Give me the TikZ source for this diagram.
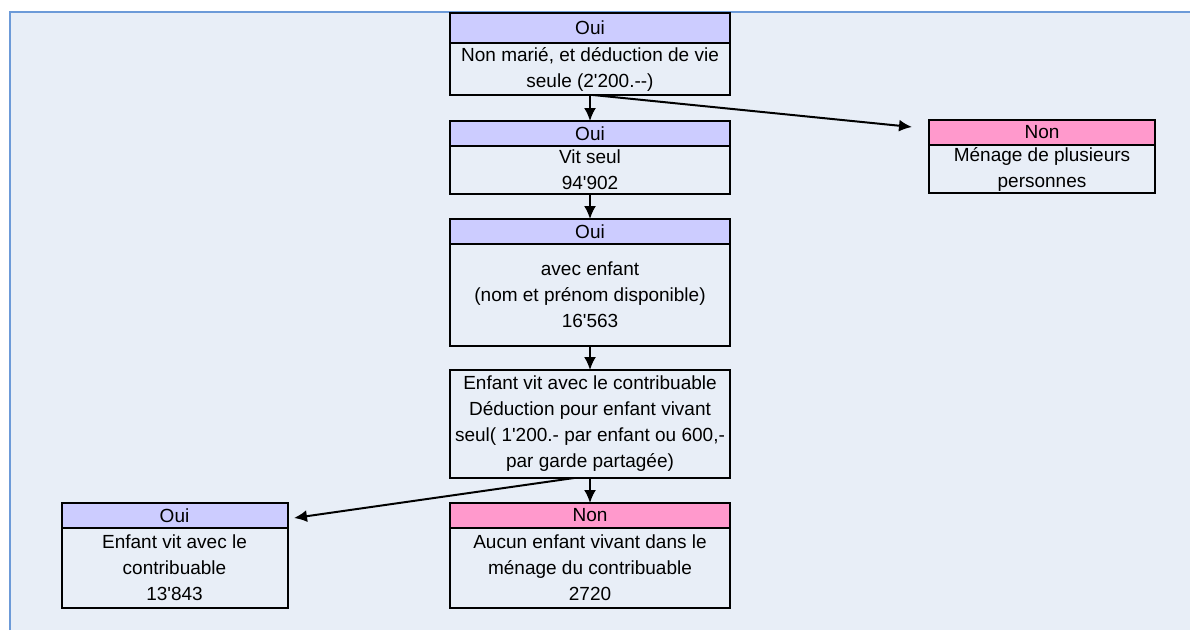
\documentclass[tikz,border=0pt]{standalone}
\usepackage{fontspec}
\setmainfont{Liberation Sans}[Ligatures=TeXOff]
\usetikzlibrary{positioning,arrows.meta}
\definecolor{ouiblue}{HTML}{CCCCFF}
\definecolor{nonpink}{HTML}{FF99CC}
\definecolor{panelbg}{HTML}{E8EEF7}
\definecolor{panelline}{HTML}{6C9AD8}
\tikzset{
  oui/.style={draw, line width=2pt, fill=ouiblue, minimum width=#1, minimum height=25pt, inner sep=0pt, outer sep=0pt, anchor=north},
  non/.style={draw, line width=2pt, fill=nonpink, minimum width=#1, minimum height=25pt, inner sep=0pt, outer sep=0pt, anchor=north},
  body/.style={draw, line width=2pt, minimum width=#1, inner sep=0pt, outer sep=0pt, align=center},
  flow/.style={line width=2pt, -{Latex[length=13pt,width=12pt]}}
}
\begin{document}
\begin{tikzpicture}[x=1pt, y=-1pt, font=\fontsize{19}{26}\selectfont]
  % Parameters
  \def\boxw{280} % Width of the middle column
  \def\sidew{226} % Width of the side boxes

  % Panel
  \useasboundingbox (0,0) rectangle (1190,630);
  \fill[panelbg] (10,12) rectangle (1190,630);
  \draw[panelline, line width=2pt] (10,630) -- (10,12) -- (1190,12);

  % Middle column
  \node[oui=\boxw, minimum height=30pt] (b1h) at (590,13) {Oui};
  \node[body=\boxw, minimum height=52pt, below=0pt of b1h] (b1) {Non marié, et déduction de vie\\seule (2'200.--)};

  \node[oui=\boxw] (b2h) at (590,121) {Oui};
  \node[body=\boxw, minimum height=48pt, below=0pt of b2h] (b2) {Vit seul\\94'902};

  \node[oui=\boxw] (b3h) at (590,219) {Oui};
  \node[body=\boxw, minimum height=102pt, below=0pt of b3h] (b3) {avec enfant\\(nom et prénom disponible)\\16'563};

  \node[body=\boxw, minimum height=108pt, anchor=north] (b4) at (590,370) {Enfant vit avec le contribuable\\Déduction pour enfant vivant\\seul( 1'200.- par enfant ou 600,-\\par garde partagée)};

  \node[non=\boxw] (n2h) at (590,503) {Non};
  \node[body=\boxw, minimum height=80pt, below=0pt of n2h] (n2) {Aucun enfant vivant dans le\\ménage du contribuable\\2720};

  % Side boxes
  \node[non=\sidew] (rh) at (1042,120) {Non};
  \node[body=\sidew, minimum height=48pt, below=0pt of rh] (r) {Ménage de plusieurs\\personnes};

  \node[oui=\sidew] (lh) at (174.5,503) {Oui};
  \node[body=\sidew, minimum height=80pt, below=0pt of lh] (l) {Enfant vit avec le\\contribuable\\13'843};

  % Arrows
  \coordinate (rtip) at (912,127);
  \coordinate (ltip) at (294,518);
  \draw[flow] (b1.south) -- (b2h.north);
  \draw[flow] ([xshift=3pt]b1.south) -- (rtip);
  \draw[flow] (b2.south) -- (b3h.north);
  \draw[flow] (b3.south) -- (b4.north);
  \draw[flow] (b4.south) -- (n2h.north);
  \draw[flow] ([xshift=-16pt]b4.south) -- (ltip);
\end{tikzpicture}
\end{document}
